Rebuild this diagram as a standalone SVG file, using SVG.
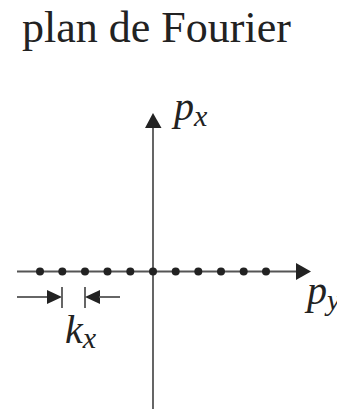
<svg xmlns="http://www.w3.org/2000/svg" width="337" height="409" viewBox="0 0 337 409">
<style>
.ax{stroke:#555;stroke-width:1.8;fill:none}
.hd{fill:#222}
.dot{fill:#222}
.t{font-family:"Liberation Serif","Times New Roman",serif;fill:#222}
.it{font-style:italic}
</style>
<rect width="337" height="409" fill="#fff"/>
<g id="title"><text class="t" x="22" y="42" font-size="44">plan de Fourier</text></g>
<g id="connectors">
<line class="ax" x1="153" y1="126" x2="153" y2="409"/>
<polygon class="hd" points="153,113 145,128 161.5,128"/>
<line class="ax" x1="17" y1="271.5" x2="298" y2="271.5"/>
<polygon class="hd" points="311,271.5 296,263 296,280"/>
<line class="ax" x1="17" y1="297" x2="48" y2="297"/>
<polygon class="hd" points="62,297 47,290 47,304"/>
<line class="ax" x1="62" y1="287" x2="62" y2="308"/>
<line class="ax" x1="85" y1="287" x2="85" y2="308"/>
<polygon class="hd" points="85,297 100,290 100,304"/>
<line class="ax" x1="99" y1="297" x2="120" y2="297"/>
</g>
<g id="dots">
<circle class="dot" cx="40" cy="271.5" r="4"/>
<circle class="dot" cx="62.3" cy="271.5" r="4"/>
<circle class="dot" cx="85" cy="271.5" r="4"/>
<circle class="dot" cx="107.5" cy="271.5" r="4"/>
<circle class="dot" cx="130.3" cy="271.5" r="4"/>
<circle class="dot" cx="153" cy="271.5" r="4"/>
<circle class="dot" cx="175.7" cy="271.5" r="4"/>
<circle class="dot" cx="198.3" cy="271.5" r="4"/>
<circle class="dot" cx="221" cy="271.5" r="4"/>
<circle class="dot" cx="243.7" cy="271.5" r="4"/>
<circle class="dot" cx="266" cy="271.5" r="4"/>
</g>
<g id="label-px"><text class="t it" x="174" y="120" font-size="40" font-family="Liberation Serif" font-style="italic">p<tspan font-size="30" dy="6">x</tspan></text></g>
<g id="label-py"><text class="t it" x="307" y="304" font-size="40" font-family="Liberation Serif" font-style="italic">p<tspan font-size="30" dy="6">y</tspan></text></g>
<g id="label-kx"><text class="t it" x="65" y="343" font-size="40" font-family="Liberation Serif" font-style="italic">k<tspan font-size="30" dy="5">x</tspan></text></g>
</svg>
